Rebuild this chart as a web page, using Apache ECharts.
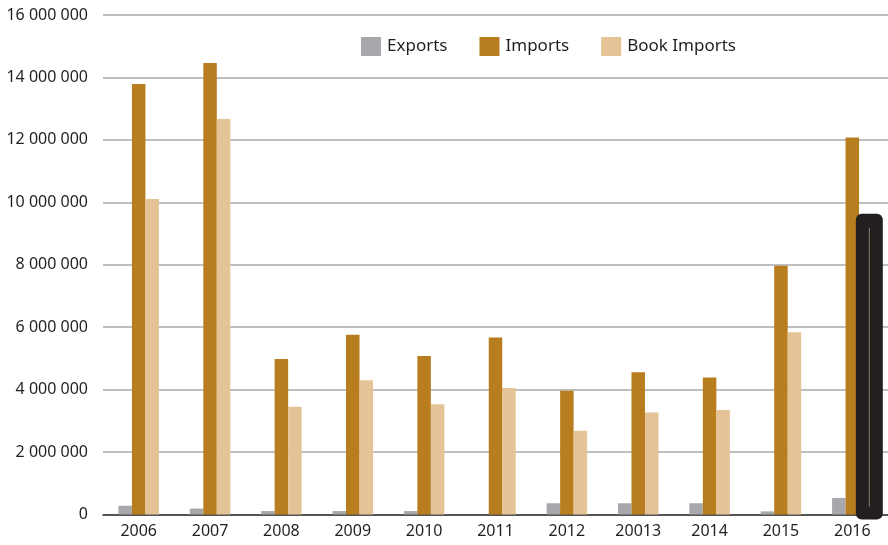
<!DOCTYPE html>
<html>
<head>
<meta charset="utf-8">
<script src="https://cdn.jsdelivr.net/npm/echarts@6/dist/echarts.min.js"></script>
<style>
html,body{margin:0;padding:0;background:#fff;}
#c{width:888px;height:545px;}
</style>
</head>
<body>
<div id="c"></div>
<script>
const categories = ['2006','2007','2008','2009','2010','2011','2012','20013','2014','2015','2016'];
const exportsData = [280000, 190000, 110000, 110000, 110000, 0, 360000, 360000, 360000, 100000, 530000];
const importsData = [13790000, 14460000, 4980000, 5760000, 5080000, 5670000, 3960000, 4560000, 4390000, 7970000, 12080000];
const bookImportsData = [10110000, 12670000, 3450000, 4300000, 3530000, 4050000, 2680000, 3270000, 3350000, 5840000, 9200000];
const yTicks = [0, 2000000, 4000000, 6000000, 8000000, 10000000, 12000000, 14000000, 16000000];
const overlayData = [[10, 9630000]];

function fmt(v){
  return String(v).replace(/\B(?=(\d{3})+(?!\d))/g, ' ');
}

const chart = echarts.init(document.getElementById('c'), null, {renderer:'canvas'});
const font = 'Noto Sans';
chart.setOption({
  animation:false,
  backgroundColor:'#fff',
  grid:{left:103, right:0, top:15, bottom:30.5, containLabel:false},
  legend:{
    data:['Exports','Imports','Book Imports'],
    left:361, top:37, padding:0,
    icon:'rect', itemWidth:20, itemHeight:19, itemGap:32,
    textStyle:{fontFamily:font, fontSize:17, color:'#231f20', padding:[0,0,0,1]}
  },
  xAxis:{
    type:'category', data:categories,
    axisLine:{lineStyle:{color:'#333', width:1.5}},
    axisTick:{show:false},
    axisLabel:{fontFamily:font, fontSize:16, color:'#231f20', margin:9}
  },
  yAxis:{
    type:'value', min:yTicks[0], max:yTicks[yTicks.length-1], interval:2000000,
    axisLine:{show:false}, axisTick:{show:false},
    splitLine:{lineStyle:{color:'#aaaaaa', width:1.5}},
    axisLabel:{fontFamily:font, fontSize:16, color:'#231f20', margin:15, formatter:fmt}
  },
  series:[
    {name:'Exports', type:'bar', data:exportsData, barWidth:13.5, barGap:'0%', itemStyle:{color:'#a7a8ac'}},
    {name:'Imports', type:'bar', data:importsData, barWidth:13.5, barGap:'0%', itemStyle:{color:'#b87d1e'}},
    {name:'Book Imports', type:'bar', data:bookImportsData, barWidth:13.5, barGap:'0%', itemStyle:{color:'#e4c397'}},
    {
      name:'overlay', type:'custom', data:overlayData, z:10,
      renderItem:function(params, api){
        const top = api.coord([api.value(0), api.value(1)]);
        const base = api.coord([api.value(0), 0]);
        const cx = top[0] + 17;
        const w = 27;
        const y0 = top[1];
        const y1 = base[1] + 5;
        return {
          type:'group',
          children:[
            {type:'rect', shape:{x:cx - w/2, y:y0, width:w, height:y1 - y0, r:6}, style:{fill:'#231f20'}},
            {type:'line', shape:{x1:cx, y1:y0 + 14, x2:cx, y2:y1 - 13}, style:{stroke:'#8d7b66', lineWidth:1}}
          ]
        };
      }
    }
  ]
});
</script>
</body>
</html>
